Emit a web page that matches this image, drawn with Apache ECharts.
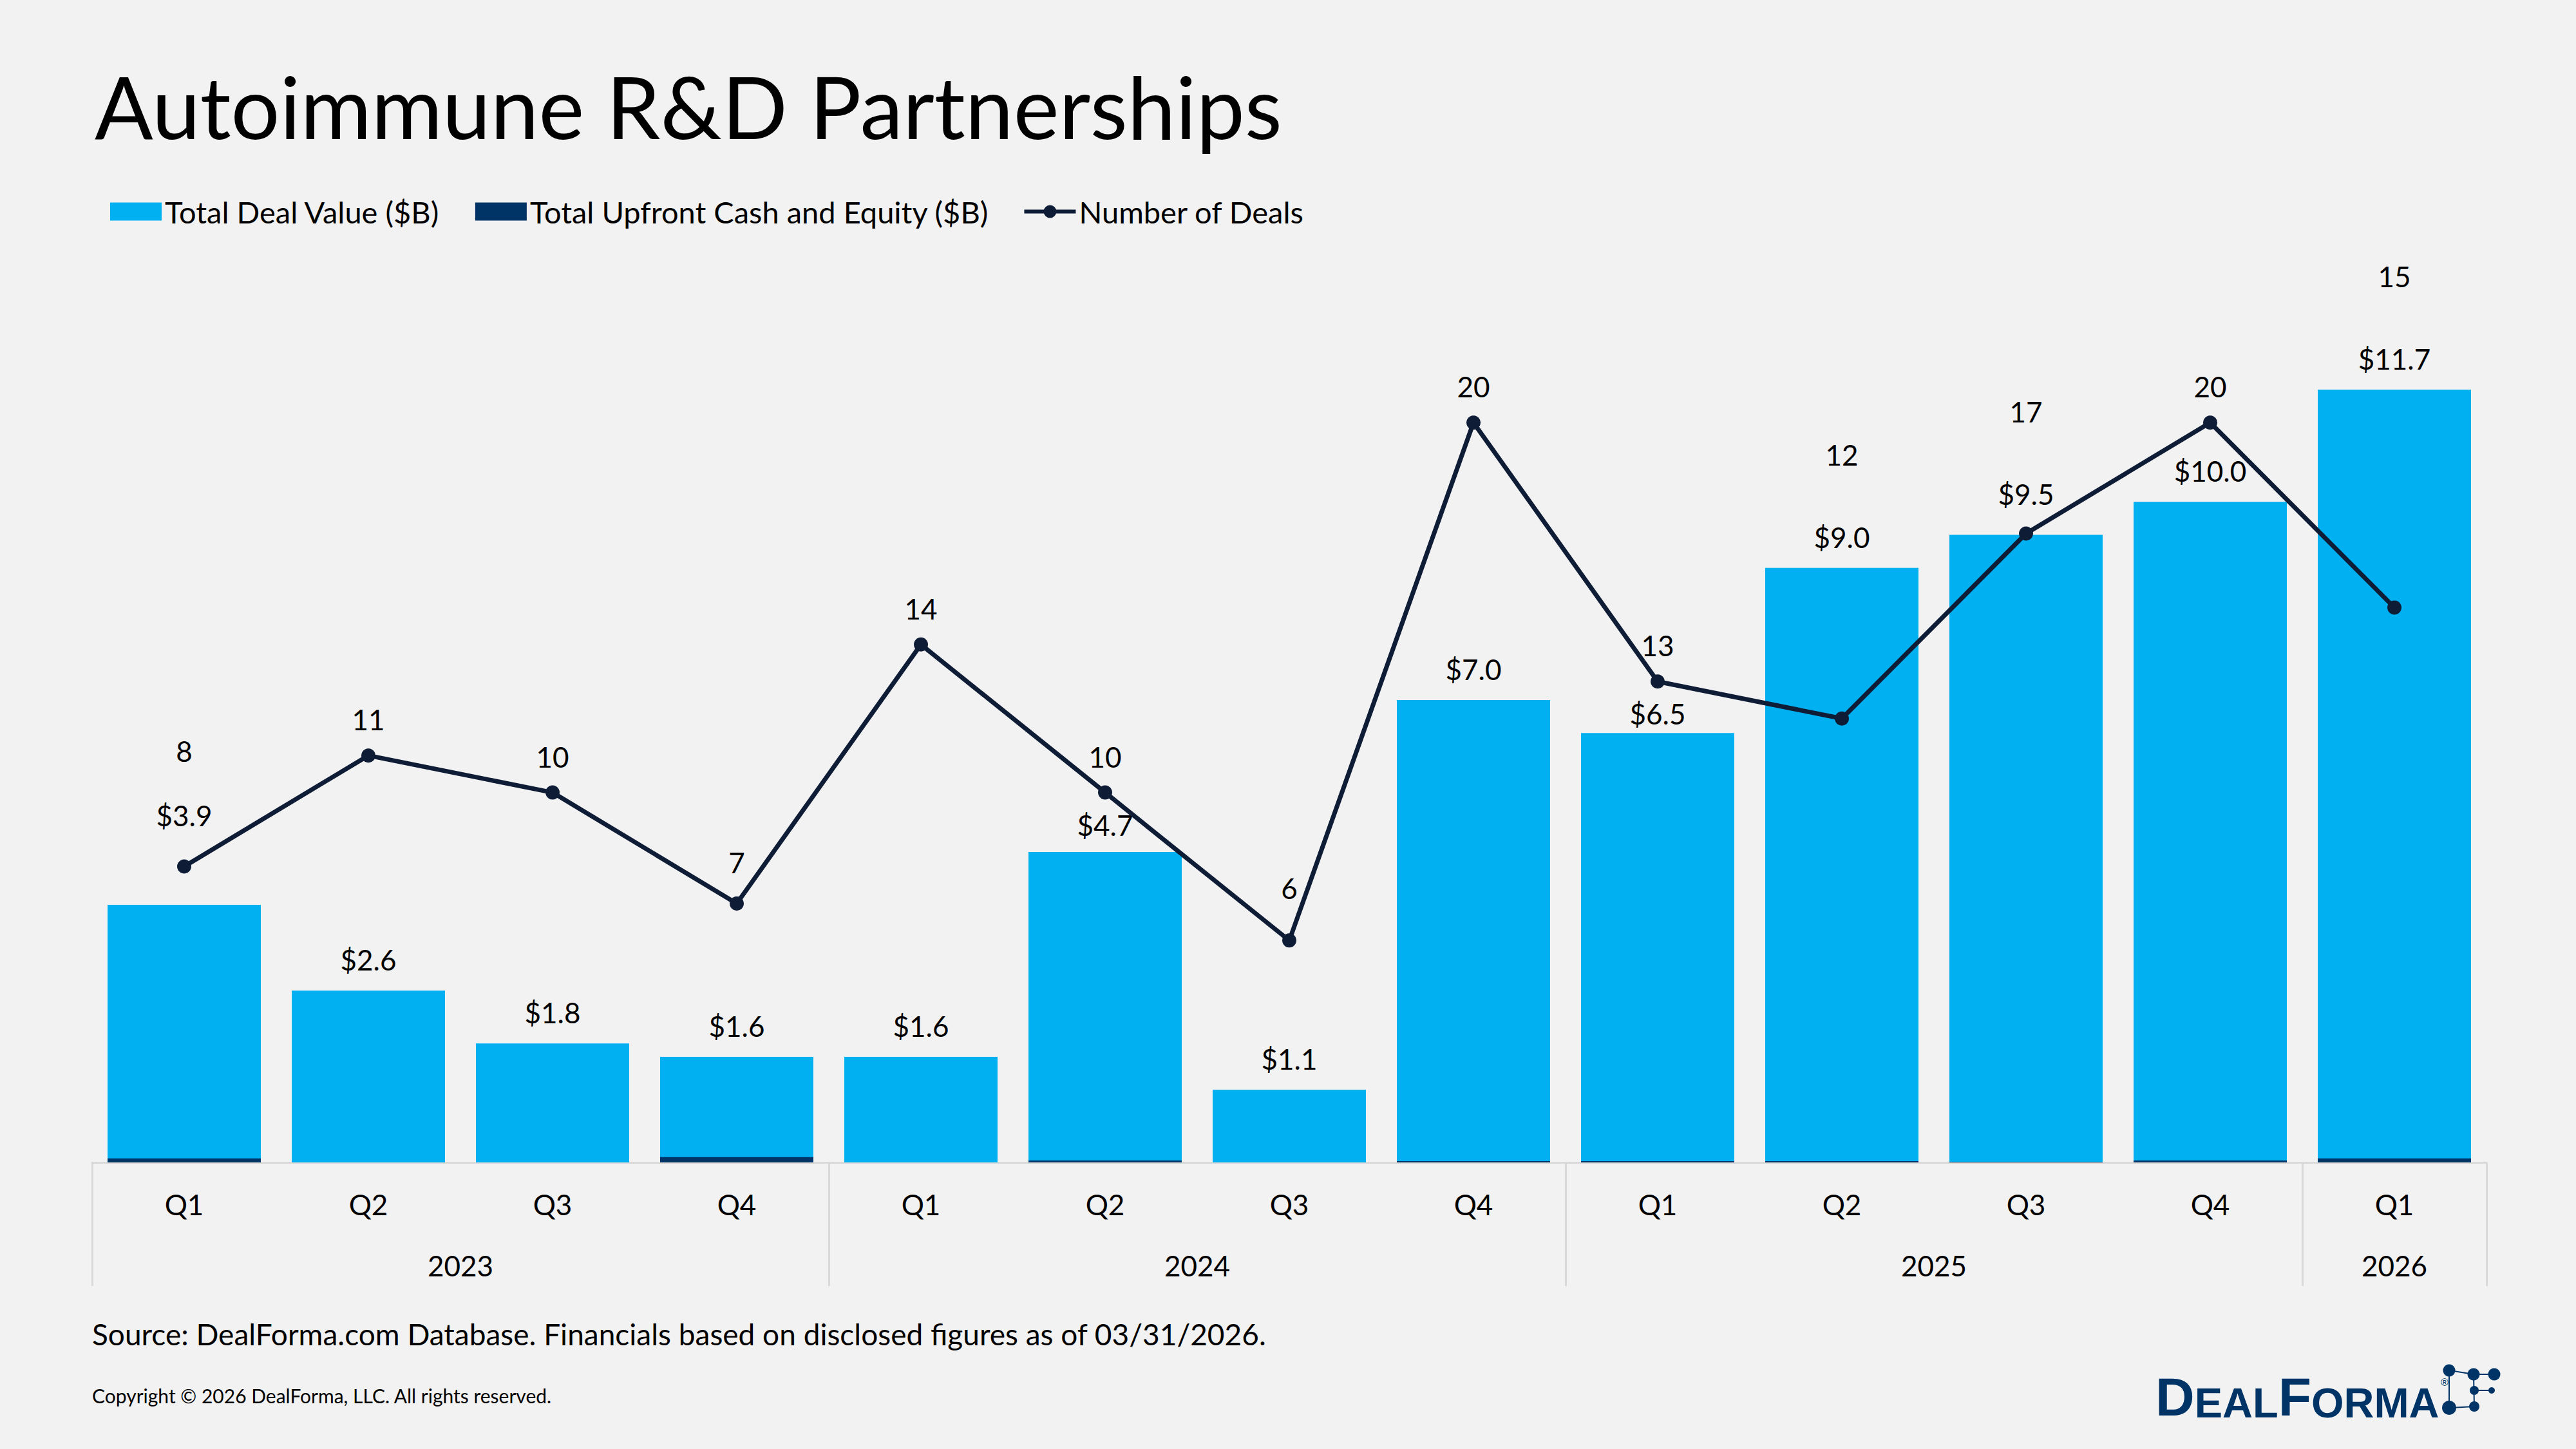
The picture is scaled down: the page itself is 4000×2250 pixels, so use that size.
<!DOCTYPE html>
<html><head><meta charset="utf-8">
<script src="https://cdn.jsdelivr.net/npm/echarts@6/dist/echarts.min.js"></script>
<style>html,body{margin:0;padding:0;background:#F2F2F2;} #c{width:4000px;height:2250px;}</style>
</head><body><div id="c"></div>
<script>
// ---- data ----
const quarters = ['Q1','Q2','Q3','Q4','Q1','Q2','Q3','Q4','Q1','Q2','Q3','Q4','Q1'];
const years = ['2023','2024','2025','2026'];
const quartersPerYear = [4,4,4,1];
const totalDealValue = [3.9,2.6,1.8,1.6,1.6,4.7,1.1,7.0,6.5,9.0,9.5,10.0,11.7];
const upfrontValue = [0.06,0,0,0.08,0,0.03,0,0.02,0.02,0.02,0.01,0.03,0.06];
const numberOfDeals = [8,11,10,7,14,10,6,20,13,12,17,20,15];
const valueAxisMax = 14;
const dealsAxisMax = 25;
const seriesNames = ['Total Deal Value ($B)','Total Upfront Cash and Equity ($B)','Number of Deals'];

// ---- derived axis helpers ----
const yearBounds = [0];
quartersPerYear.forEach(n => yearBounds.push(yearBounds[yearBounds.length-1] + n));
const yearCenters = years.map((y,i) => (yearBounds[i] + yearBounds[i+1]) / 2);

const FONT = 'Lato';
const BLUE = '#00B0F0', NAVY = '#003366', LINE = '#0E1C36', GRAY = '#D9D9D9';
const LBL = 44;
const LINE_ICON = 'path://M0,0L0.01,0L0,0.01Z M80,28L79.99,28L80,27.99Z M0,11L80,11L80,17L0,17Z M50,14A10,10,0,1,1,30,14A10,10,0,1,1,50,14Z';

const chart = echarts.init(document.getElementById('c'), null, {renderer:'svg', width:4000, height:2250});

const option = {
  backgroundColor: '#F2F2F2',
  animation: false,
  title: {
    text: 'Autoimmune R&D Partnerships', left: 147, top: 97, padding: 0,
    textStyle: {fontFamily: FONT, fontSize: 134, fontWeight: 'normal', color: '#000', lineHeight: 134}
  },
  legend: {
    left: 171, top: 305, itemWidth: 80, itemHeight: 28, itemGap: 55, padding: 0,
    textStyle: {fontFamily: FONT, fontSize: 47, color: '#000', lineHeight: 44},
    data: [{name: seriesNames[0], icon: 'rect'}, {name: seriesNames[1], icon: 'rect'}, {name: seriesNames[2], icon: LINE_ICON}]
  },
  grid: {left: 143, right: 139, top: 369, bottom: 445},
  xAxis: [
    {
      type: 'category', data: quarters,
      axisLine: {show: true, lineStyle: {color: GRAY, width: 3}},
      axisTick: {show: false},
      axisLabel: {margin: 43, fontFamily: FONT, fontSize: LBL, lineHeight: 44, color: '#000'}
    },
    {
      type: 'value', min: 0, max: quarters.length, position: 'bottom',
      axisLine: {show: false}, splitLine: {show: false},
      axisTick: {show: true, customValues: yearBounds, length: 192, lineStyle: {color: GRAY, width: 3}},
      axisLabel: {show: true, customValues: yearCenters, formatter: (v) => years[yearCenters.indexOf(v)],
        margin: 138, fontFamily: FONT, fontSize: LBL, lineHeight: 44, color: '#000'}
    }
  ],
  yAxis: [
    {type: 'value', min: 0, max: valueAxisMax, show: false, splitLine: {show: false}},
    {type: 'value', min: 0, max: dealsAxisMax, show: false, splitLine: {show: false}}
  ],
  series: [
    {
      name: seriesNames[0], type: 'bar', xAxisIndex: 0, yAxisIndex: 0, data: totalDealValue,
      barGap: '-100%', barCategoryGap: '16.8%', z: 2,
      itemStyle: {color: BLUE},
      label: {show: true, position: 'top', distance: 0, fontFamily: FONT, fontSize: LBL, lineHeight: 44, color: '#000',
        formatter: p => '$' + Number(p.value).toFixed(1)}
    },
    {
      name: seriesNames[1], type: 'bar', xAxisIndex: 0, yAxisIndex: 0, data: upfrontValue,
      barGap: '-100%', barCategoryGap: '16.8%', z: 3,
      itemStyle: {color: NAVY}
    },
    {
      name: seriesNames[2], type: 'line', xAxisIndex: 0, yAxisIndex: 1, data: numberOfDeals, z: 5,
      symbol: 'circle', symbolSize: 22,
      lineStyle: {color: LINE, width: 7}, itemStyle: {color: LINE},
      label: {show: true, position: 'top', distance: 0, fontFamily: FONT, fontSize: LBL, lineHeight: 44, color: '#000'}
    }
  ],
  graphic: [
    {type: 'text', left: 143, top: 2048, style: {text: 'Source: DealForma.com Database. Financials based on disclosed figures as of 03/31/2026.',
      fontFamily: FONT, fontSize: 46, lineHeight: 44, fill: '#000'}},
    {type: 'text', left: 143, top: 2152, style: {text: 'Copyright \u00A9 2026 DealForma, LLC. All rights reserved.',
      fontFamily: FONT, fontSize: 30, lineHeight: 30, fill: '#000'}},
    {type: 'group', children: [
      {type: 'text', x: 3347, y: 2211, style: {
        text: '{b|D}{s|EAL}{b|F}{s|ORMA}', verticalAlign: 'bottom', fill: NAVY,
        fontFamily: 'Liberation Sans', fontWeight: 'bold',
        rich: {
          b: {fontFamily: 'Liberation Sans', fontWeight: 'bold', fontSize: 84, lineHeight: 84, verticalAlign: 'bottom', fill: NAVY, color: NAVY},
          s: {fontFamily: 'Liberation Sans', fontWeight: 'bold', fontSize: 65, lineHeight: 71, verticalAlign: 'bottom', fill: NAVY, color: NAVY}
        }}},
      {type: 'text', x: 3790, y: 2146, style: {text: '\u00AE', fontFamily: 'Liberation Sans', fontSize: 16, fill: NAVY, verticalAlign: 'middle'}},
      {type: 'line', shape: {x1: 3803, y1: 2128, x2: 3841, y2: 2134}, style: {stroke: NAVY, lineWidth: 2}},
      {type: 'line', shape: {x1: 3841, y1: 2134, x2: 3873, y2: 2134}, style: {stroke: NAVY, lineWidth: 2}},
      {type: 'line', shape: {x1: 3803, y1: 2128, x2: 3803, y2: 2186}, style: {stroke: NAVY, lineWidth: 2}},
      {type: 'line', shape: {x1: 3841, y1: 2134, x2: 3842, y2: 2184}, style: {stroke: NAVY, lineWidth: 2}},
      {type: 'line', shape: {x1: 3842, y1: 2159, x2: 3869, y2: 2159}, style: {stroke: NAVY, lineWidth: 2}},
      {type: 'line', shape: {x1: 3803, y1: 2186, x2: 3842, y2: 2184}, style: {stroke: NAVY, lineWidth: 2}},
      {type: 'circle', shape: {cx: 3803, cy: 2128, r: 9.5}, style: {fill: NAVY}},
      {type: 'circle', shape: {cx: 3841, cy: 2134, r: 9.5}, style: {fill: NAVY}},
      {type: 'circle', shape: {cx: 3873, cy: 2134, r: 9.5}, style: {fill: NAVY}},
      {type: 'circle', shape: {cx: 3842, cy: 2159, r: 7}, style: {fill: NAVY}},
      {type: 'circle', shape: {cx: 3869, cy: 2159, r: 5}, style: {fill: NAVY}},
      {type: 'circle', shape: {cx: 3803, cy: 2186, r: 11}, style: {fill: NAVY}},
      {type: 'circle', shape: {cx: 3842, cy: 2184, r: 8}, style: {fill: NAVY}}
    ]}
  ]
};
chart.setOption(option);

// ---- label collision avoidance using the library's scales ----
const barData = [], lineData = [];
const px = (s, i, v) => chart.convertToPixel({seriesIndex: s}, [i, v]);
totalDealValue.forEach((v, i) => {
  const barTop = px(0, i, v)[1];
  const [x, pt] = px(2, i, numberOfDeals[i]);
  let b = barTop - 48, moved = false;
  const d = b - pt;
  if (Math.abs(d) < 50) {
    if (d > 0 && pt + 50 <= barTop - 25) b = pt + 50;
    else if (d <= 0) b = pt - 62;
    else { b = pt - 79; moved = true; }
  }
  let l = pt - 56;
  // keep valley labels clear of the rising line segments on either side
  const n = numberOfDeals.length;
  if (i > 0 && i < n - 1 && numberOfDeals[i-1] > numberOfDeals[i] && numberOfDeals[i+1] > numberOfDeals[i]) {
    const half = String(numberOfDeals[i]).length * 12.7;
    const [xl, yl] = px(2, i - 1, numberOfDeals[i-1]);
    const [xr, yr] = px(2, i + 1, numberOfDeals[i+1]);
    const yAtL = pt + (yl - pt) * half / (x - xl);
    const yAtR = pt + (yr - pt) * half / (xr - x);
    l = Math.min(l, Math.min(yAtL, yAtR) - 24 - 22);
  }
  if (l > b - 77) l = b - (moved ? 100 : 128);
  barData.push({value: v, label: {offset: [0, b - (barTop - 22)]}});
  lineData.push({value: numberOfDeals[i], label: {offset: [0, l - (pt - 11 - 22)]}});
});
chart.setOption({series: [{data: barData}, {}, {data: lineData}]});
</script></body></html>
